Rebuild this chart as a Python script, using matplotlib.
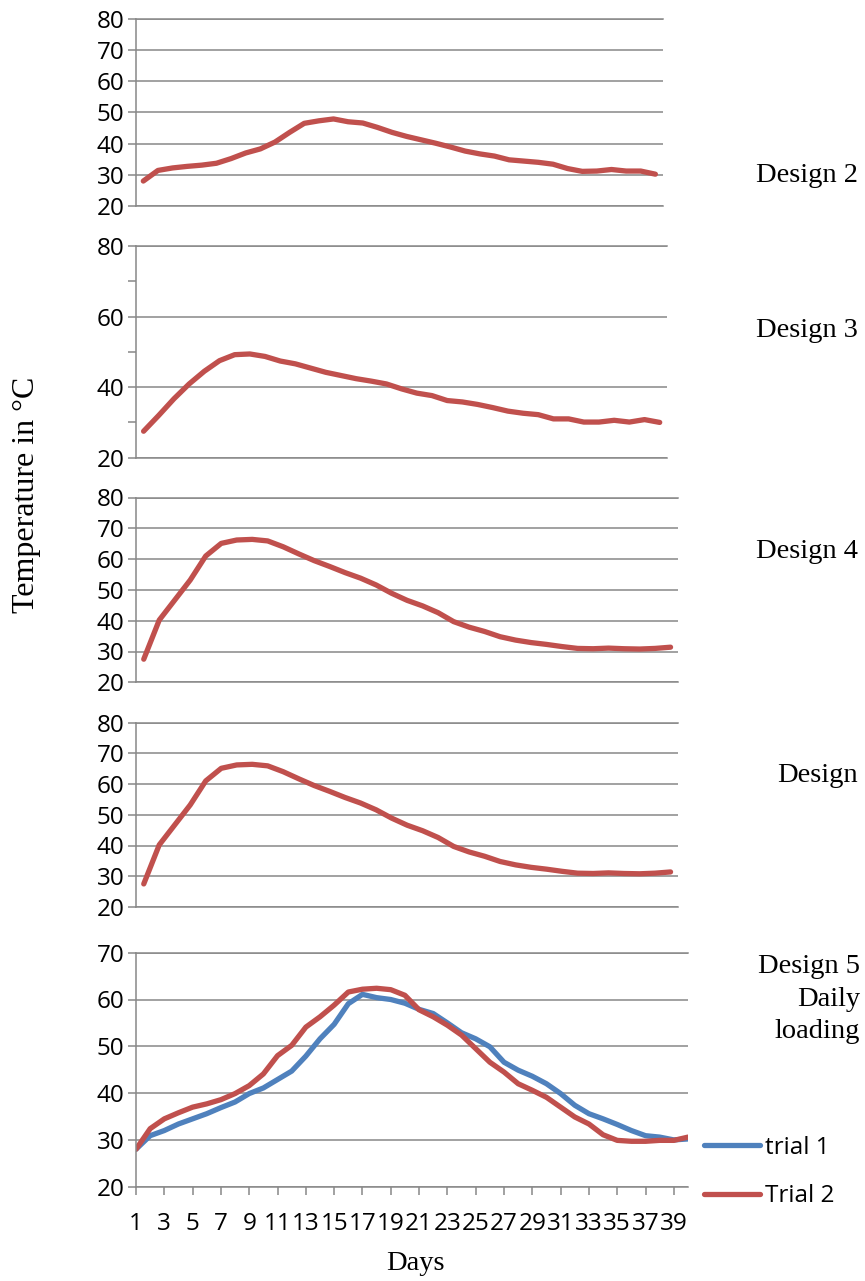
import numpy as np
import matplotlib
matplotlib.use("Agg")
import matplotlib.pyplot as plt

# temperatures (deg C)
design2 = [28.0, 31.4, 32.2, 32.7, 33.1, 33.7, 35.2, 37.0, 38.3, 40.5, 43.6, 46.5,
           47.3, 47.9, 47.0, 46.6, 45.2, 43.6, 42.3, 41.2, 40.1, 38.9, 37.6, 36.7,
           36.0, 34.8, 34.4, 34.0, 33.4, 32.0, 31.1, 31.2, 31.7, 31.2, 31.2, 30.2]
design3 = [27.5, 32.0, 36.7, 40.9, 44.5, 47.5, 49.2, 49.4, 48.7, 47.4, 46.6, 45.4,
           44.2, 43.3, 42.4, 41.7, 40.9, 39.5, 38.3, 37.6, 36.2, 35.8, 35.1, 34.2,
           33.2, 32.6, 32.2, 31.0, 31.0, 30.1, 30.1, 30.6, 30.1, 30.8, 30.0]
design4 = [27.5, 40.2, 46.7, 53.2, 61.0, 65.1, 66.2, 66.4, 65.9, 64.0, 61.7, 59.5,
           57.6, 55.6, 53.8, 51.6, 48.9, 46.6, 44.8, 42.6, 39.7, 37.9, 36.5, 34.8,
           33.7, 32.9, 32.3, 31.6, 31.0, 30.9, 31.1, 30.9, 30.8, 31.0, 31.4]
design = list(design4)  # fourth panel shows the same curve
trial1 = [28.0, 30.9, 32.0, 33.4, 34.5, 35.6, 36.9, 38.1, 39.9, 41.1, 42.9, 44.7,
          47.9, 51.6, 54.7, 59.1, 61.1, 60.4, 60.0, 59.2, 57.9, 57.0, 55.0, 52.9,
          51.6, 49.9, 46.6, 44.9, 43.6, 42.0, 39.9, 37.4, 35.6, 34.5, 33.3, 32.0,
          30.9, 30.6, 30.0, 30.2]
trial2 = [28.0, 32.4, 34.5, 35.8, 37.0, 37.7, 38.6, 39.9, 41.6, 44.1, 48.0, 50.2,
          54.1, 56.3, 58.8, 61.6, 62.2, 62.4, 62.1, 60.9, 57.8, 56.3, 54.5, 52.4,
          49.5, 46.6, 44.5, 42.0, 40.6, 39.1, 37.0, 34.9, 33.4, 31.1, 29.9, 29.7,
          29.7, 29.9, 29.9, 30.6]
days = list(range(1, 41))
day_ticks = list(range(1, 40, 2))
day_labels = [str(d) for d in day_ticks]

RED = "#C0504D"
BLUE = "#4F81BD"
GRID = "#888888"
SERIF = ["Liberation Serif", "DejaVu Serif"]
TICK_FS = 17.5

plt.rcParams["font.family"] = ["Open Sans", "DejaVu Sans"]

W, H = 865, 1281
fig = plt.figure(figsize=(W / 100, H / 100), dpi=100)


def panel(left, top, right, bottom):
    return fig.add_axes([left / W, 1 - bottom / H, (right - left) / W, (bottom - top) / H])


def style(ax, lo, hi, step):
    ax.set_ylim(lo, hi)
    ax.set_yticks(np.arange(lo, hi + 1, step))
    ax.yaxis.grid(True, color=GRID, lw=1.1)
    ax.set_axisbelow(True)
    for s in ["left", "bottom", "top"]:
        ax.spines[s].set_color(GRID)
        ax.spines[s].set_linewidth(1.1)
    ax.spines["right"].set_visible(False)
    ax.tick_params(axis="y", which="both", direction="out", length=5.5, width=1.1,
                   color=GRID, labelsize=TICK_FS, pad=3)


def top_panel(ax, values, lo, hi, step):
    n = len(values)
    ax.plot(range(1, n + 1), values, color=RED, lw=3.8, solid_capstyle="round",
            solid_joinstyle="round")
    ax.set_xlim(0.5, n + 0.5)
    ax.set_xticks([])
    style(ax, lo, hi, step)


ax1 = panel(136, 18.8, 662.7, 206)
top_panel(ax1, design2, 20, 80, 10)

ax2 = panel(136, 246, 667.3, 457.7)
top_panel(ax2, design3, 20, 80, 20)
ax2.set_yticks([30, 50, 70], minor=True)

ax3 = panel(136, 497.5, 678.3, 682.3)
top_panel(ax3, design4, 20, 80, 10)

ax4 = panel(136, 722.5, 678.3, 907)
top_panel(ax4, design, 20, 80, 10)

ax5 = panel(136, 952.7, 688, 1186.7)
l1, = ax5.plot(days, trial1, color=BLUE, lw=3.8, solid_capstyle="round",
               solid_joinstyle="round", label="trial 1")
l2, = ax5.plot(days, trial2, color=RED, lw=3.8, solid_capstyle="round",
               solid_joinstyle="round", label="Trial 2")
ax5.set_xlim(1, 40)
ax5.set_xticks(day_ticks)
ax5.set_xticklabels(day_labels)
style(ax5, 20, 70, 10)
ax5.tick_params(axis="x", direction="out", length=5.5, width=1.1, color=GRID,
                labelsize=TICK_FS, pad=13)

fig.legend(handles=[l1, l2], loc="upper left", bbox_to_anchor=(704 / W, 1 - 1136 / H),
           frameon=False, fontsize=TICK_FS, handlelength=2.3, handletextpad=0.2,
           labelspacing=1.0, borderpad=0, borderaxespad=0)

fig.text(858 / W, 1 - 175 / H, "Design 2", ha="right", va="center", family=SERIF, fontsize=20.5)
fig.text(858 / W, 1 - 330 / H, "Design 3", ha="right", va="center", family=SERIF, fontsize=20.5)
fig.text(858 / W, 1 - 551 / H, "Design 4", ha="right", va="center", family=SERIF, fontsize=20.5)
fig.text(858 / W, 1 - 776 / H, "Design", ha="right", va="center", family=SERIF, fontsize=20.5)
fig.text(860 / W, 1 - 999 / H, "Design 5\nDaily\nloading", ha="right", va="center",
         multialignment="right", family=SERIF, fontsize=20.5, linespacing=1.38)

fig.text(27 / W, 1 - 495 / H, "Temperature in °C", rotation=90, ha="center", va="center",
         family=SERIF, fontsize=23)
fig.text(415 / W, 1 - 1263 / H, "Days", ha="center", va="center", family=SERIF, fontsize=20.5)

fig.savefig("out.png", dpi=100)
